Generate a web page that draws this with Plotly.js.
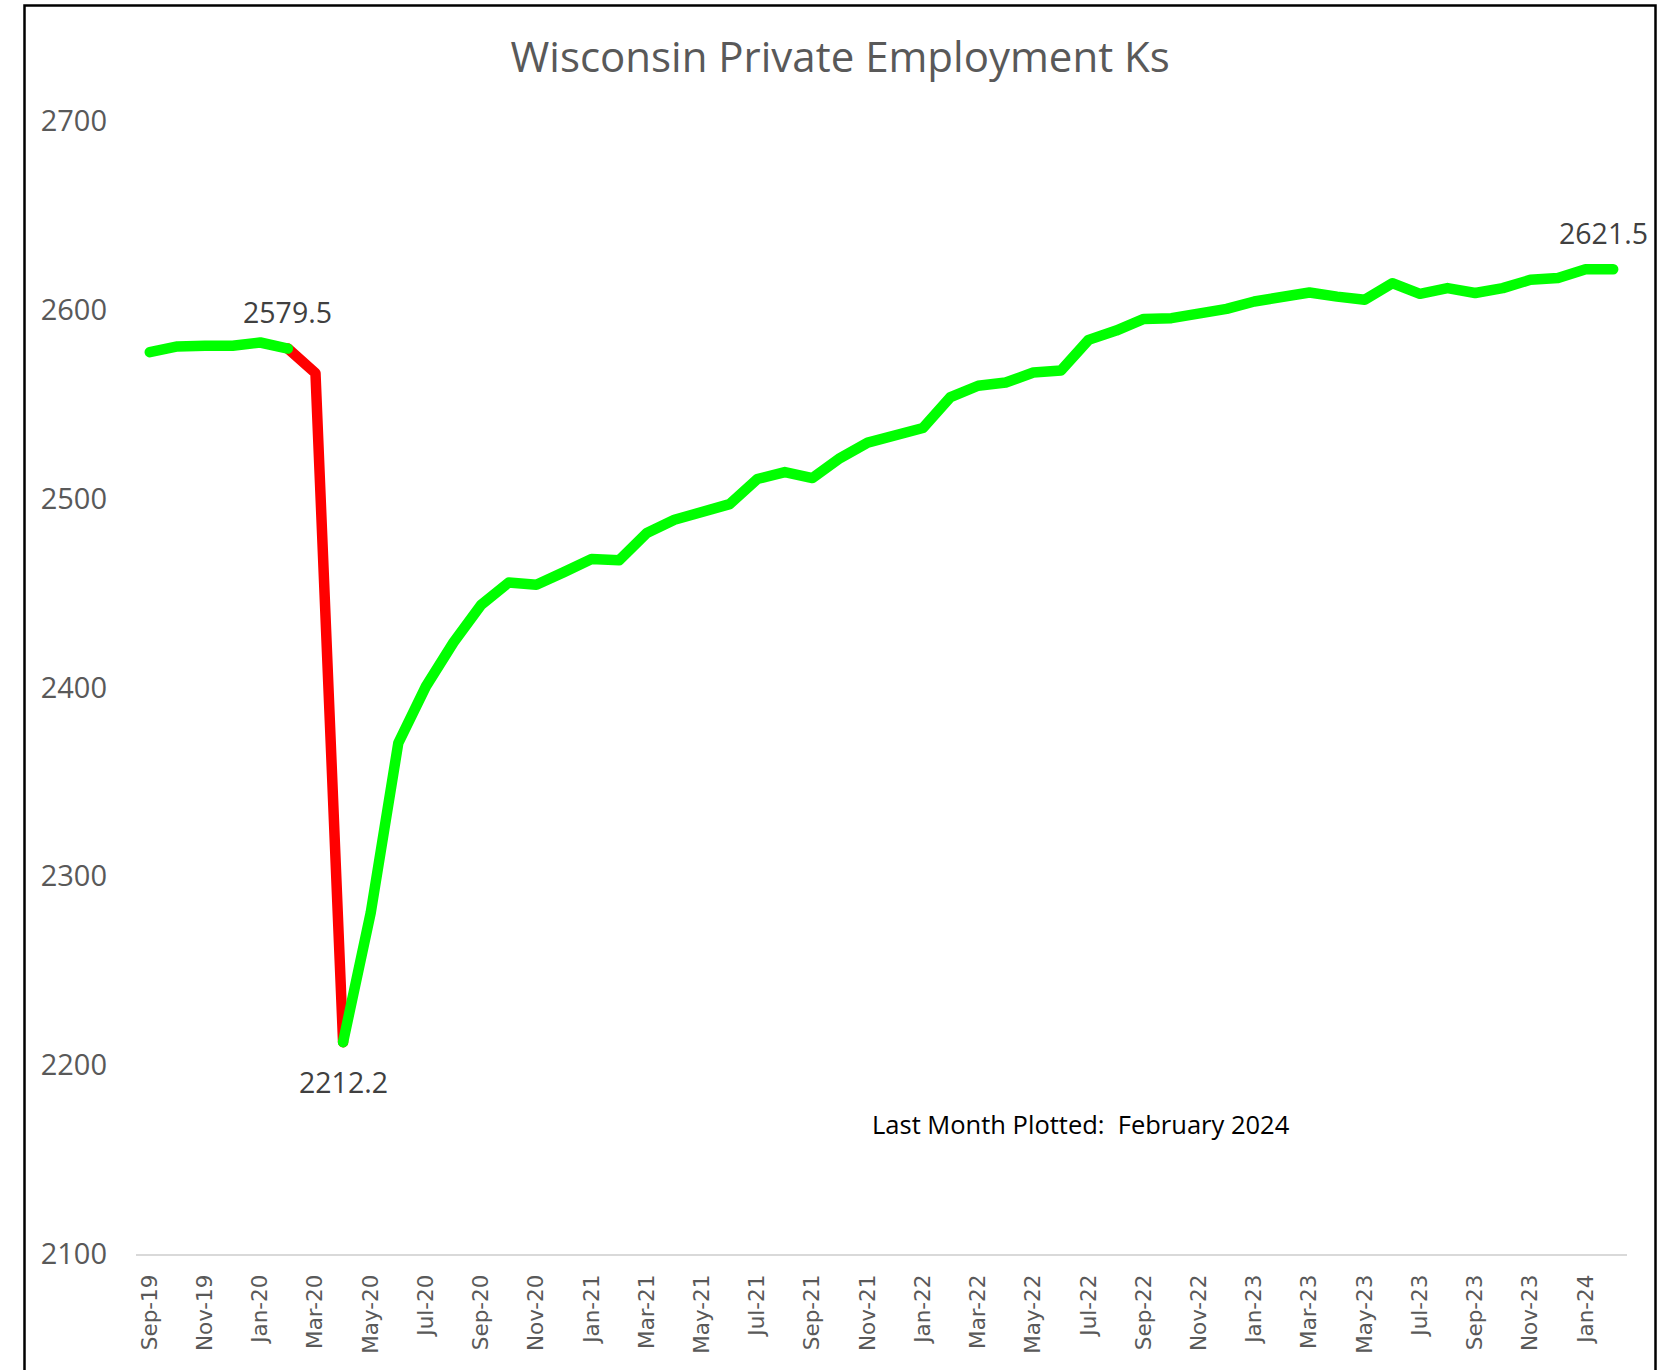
<!DOCTYPE html>
<html>
<head>
<meta charset="utf-8">
<script src="https://cdn.plot.ly/plotly-3.0.1.min.js"></script>
<style>
  html, body { margin: 0; padding: 0; background: #fff; }
  #chart { width: 1667px; height: 1370px; }
  .js-line { stroke-linecap: round !important; stroke-linejoin: round !important; }
</style>
</head>
<body>
<div id="chart"></div>
<script>
// ---- Data ----
const months = [
  "Sep-19","Oct-19","Nov-19","Dec-19",
  "Jan-20","Feb-20","Mar-20","Apr-20","May-20","Jun-20","Jul-20","Aug-20","Sep-20","Oct-20","Nov-20","Dec-20",
  "Jan-21","Feb-21","Mar-21","Apr-21","May-21","Jun-21","Jul-21","Aug-21","Sep-21","Oct-21","Nov-21","Dec-21",
  "Jan-22","Feb-22","Mar-22","Apr-22","May-22","Jun-22","Jul-22","Aug-22","Sep-22","Oct-22","Nov-22","Dec-22",
  "Jan-23","Feb-23","Mar-23","Apr-23","May-23","Jun-23","Jul-23","Aug-23","Sep-23","Oct-23","Nov-23","Dec-23",
  "Jan-24","Feb-24"
];
const employment = [
  2577.6, 2580.6, 2581.0, 2581.0,
  2582.7, 2579.5, 2566.5, 2212.2, 2280.6, 2370.6, 2400.6, 2423.9, 2443.8, 2455.6, 2454.4, 2461.1,
  2468.0, 2467.4, 2481.8, 2488.8, 2492.7, 2497.1, 2510.4, 2514.1, 2510.9, 2521.5, 2529.7, 2533.8,
  2537.4, 2553.8, 2559.8, 2561.5, 2566.8, 2567.9, 2584.1, 2589.0, 2595.2, 2595.6, 2597.4, 2600.5,
  2604.4, 2606.2, 2609.2, 2607.0, 2605.3, 2614.1, 2608.5, 2611.5, 2608.9, 2611.5, 2615.9, 2616.8,
  2621.5, 2621.5
];
// Months drawn in red (the COVID collapse): Feb-20 through Apr-20
const redMonths = ["Feb-20", "Mar-20", "Apr-20"];
const greenGapMonths = ["Mar-20"];
const xTickLabels = months.filter((m, i) => i % 2 === 0);
const yTickValues = [2100, 2200, 2300, 2400, 2500, 2600, 2700];
const labelledPoints = [
  { month: "Feb-20", value: 2579.5, text: "2579.5", yshift: 37, xshift: 0 },
  { month: "Apr-20", value: 2212.2, text: "2212.2", yshift: -40, xshift: 0 },
  { month: "Feb-24", value: 2621.5, text: "2621.5", yshift: 36, xshift: -10 }
];
const footnote = "Last Month Plotted:  February 2024";
const chartTitle = "Wisconsin Private Employment Ks";

// ---- Build series ----
const redY = months.map((m, i) => redMonths.includes(m) ? employment[i] : null);
const greenY = months.map((m, i) => greenGapMonths.includes(m) ? null : employment[i]);

const traces = [
  { x: months, y: redY, type: "scatter", mode: "lines", connectgaps: false,
    line: { color: "#FF0000", width: 10.5 }, hoverinfo: "x+y", showlegend: false },
  { x: months, y: greenY, type: "scatter", mode: "lines", connectgaps: false,
    line: { color: "#00FF00", width: 10.5 }, hoverinfo: "x+y", showlegend: false }
];

const annotations = labelledPoints.map(p => ({
  x: p.month, y: p.value, xref: "x", yref: "y", text: p.text, showarrow: false,
  yshift: p.yshift, xshift: p.xshift,
  font: { family: "Open Sans", size: 28.5, color: "#404040" }
}));
annotations.push({
  xref: "paper", yref: "paper", x: (1081 - 136) / 1491, y: (1254.5 - 1124) / 1133.5,
  xanchor: "center", yanchor: "middle", text: footnote, showarrow: false,
  font: { family: "Open Sans", size: 25.5, color: "#000000" }
});

const layout = {
  width: 1667, height: 1370,
  margin: { l: 136, r: 40, t: 121, b: 115.5, pad: 0 },
  paper_bgcolor: "#ffffff", plot_bgcolor: "#ffffff",
  title: { text: chartTitle, xref: "container", yref: "container", x: 0.504, y: 1 - 57 / 1370,
    xanchor: "center", yanchor: "middle",
    font: { family: "Open Sans", size: 42, color: "#595959" } },
  xaxis: {
    type: "category", range: [-0.5, months.length - 0.5],
    tickmode: "array", tickvals: xTickLabels, ticktext: xTickLabels,
    tickangle: -90, ticks: "", ticklabelstandoff: 10,
    showline: true, linecolor: "#d9d9d9", linewidth: 2,
    showgrid: false, zeroline: false,
    tickfont: { family: "DejaVu Sans", size: 21.5, color: "#595959" }
  },
  yaxis: {
    range: [2100, 2700], tickmode: "array", tickvals: yTickValues,
    ticks: "", ticklabelstandoff: 28,
    showline: false, showgrid: false, zeroline: false,
    tickfont: { family: "Open Sans", size: 29, color: "#595959" }
  },
  annotations: annotations,
  shapes: [{
    type: "rect", xref: "paper", yref: "paper",
    x0: (24.5 - 136) / 1491, x1: (1655.5 - 136) / 1491,
    y0: (1254.5 - 1400) / 1133.5, y1: (1254.5 - 5.5) / 1133.5,
    line: { color: "#000000", width: 2.5 }, fillcolor: "rgba(0,0,0,0)", layer: "below"
  }],
  showlegend: false
};

Plotly.newPlot("chart", traces, layout, { displayModeBar: false, staticPlot: true });
</script>
</body>
</html>
